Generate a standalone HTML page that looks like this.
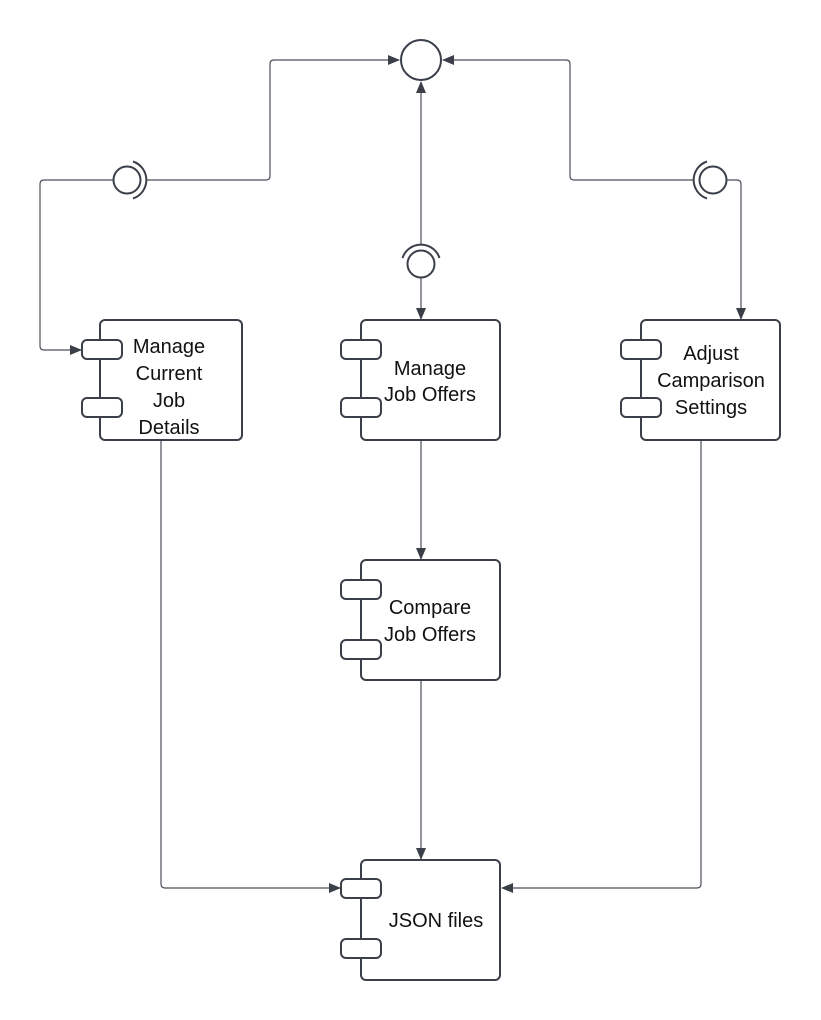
<!DOCTYPE html>
<html><head><meta charset="utf-8"><style>
html,body{margin:0;padding:0;background:#fff;}
svg{display:block}
text{font-family:"Liberation Sans",sans-serif;font-size:20px;fill:#111;text-anchor:middle}
</style></head><body>
<svg width="821" height="1020" viewBox="0 0 821 1020" xmlns="http://www.w3.org/2000/svg">
<defs>
<marker id="a" markerWidth="12" markerHeight="10" refX="11" refY="5" orient="auto" markerUnits="userSpaceOnUse">
<path d="M0,0 L12,5 L0,10 Z" fill="#3a3f4a"/></marker>
</defs>
<g fill="none" stroke="#4a4f59" stroke-width="1.2">
<path d="M113,180 H44 Q40,180 40,184 V346 Q40,350 44,350 H81" marker-end="url(#a)"/>
<path d="M147,180 H266 Q270,180 270,176 V64 Q270,60 274,60 H399" marker-end="url(#a)"/>
<path d="M421,244 V82" marker-end="url(#a)"/>
<path d="M421,278 V319" marker-end="url(#a)"/>
<path d="M693,180 H574 Q570,180 570,176 V64 Q570,60 566,60 H443" marker-end="url(#a)"/>
<path d="M727,180 H737 Q741,180 741,184 V319" marker-end="url(#a)"/>
<path d="M421,440 V559" marker-end="url(#a)"/>
<path d="M421,680 V859" marker-end="url(#a)"/>
<path d="M161,440 V884 Q161,888 165,888 H340" marker-end="url(#a)"/>
<path d="M701,440 V884 Q701,888 697,888 H502" marker-end="url(#a)"/>
</g>
<g fill="#fff" stroke="#3a3f4a" stroke-width="2">
<circle cx="421" cy="60" r="20"/>
<circle cx="127" cy="180" r="13.5"/>
<path d="M133,161.5 A19.5,19.5 0 0 1 133,198.5" fill="none"/>
<circle cx="421" cy="264" r="13.5"/>
<path d="M402.5,258 A19.5,19.5 0 0 1 439.5,258" fill="none"/>
<circle cx="713" cy="180" r="13.5"/>
<path d="M707,161.5 A19.5,19.5 0 0 0 707,198.5" fill="none"/>

<rect x="100" y="320" width="142" height="120" rx="5"/>
<rect x="82" y="340" width="40" height="19" rx="5"/>
<rect x="82" y="398" width="40" height="19" rx="5"/>
<rect x="361" y="320" width="139" height="120" rx="5"/>
<rect x="341" y="340" width="40" height="19" rx="5"/>
<rect x="341" y="398" width="40" height="19" rx="5"/>
<rect x="641" y="320" width="139" height="120" rx="5"/>
<rect x="621" y="340" width="40" height="19" rx="5"/>
<rect x="621" y="398" width="40" height="19" rx="5"/>
<rect x="361" y="560" width="139" height="120" rx="5"/>
<rect x="341" y="580" width="40" height="19" rx="5"/>
<rect x="341" y="640" width="40" height="19" rx="5"/>
<rect x="361" y="860" width="139" height="120" rx="5"/>
<rect x="341" y="879" width="40" height="19" rx="5"/>
<rect x="341" y="939" width="40" height="19" rx="5"/>
</g>
<text x="169" y="353">Manage</text>
<text x="169" y="380">Current</text>
<text x="169" y="407">Job</text>
<text x="169" y="434">Details</text>
<text x="430" y="375">Manage</text>
<text x="430" y="401">Job Offers</text>
<text x="711" y="360">Adjust</text>
<text x="711" y="387">Camparison</text>
<text x="711" y="414">Settings</text>
<text x="430" y="614">Compare</text>
<text x="430" y="641">Job Offers</text>
<text x="436" y="927">JSON files</text>
</svg>
</body></html>
